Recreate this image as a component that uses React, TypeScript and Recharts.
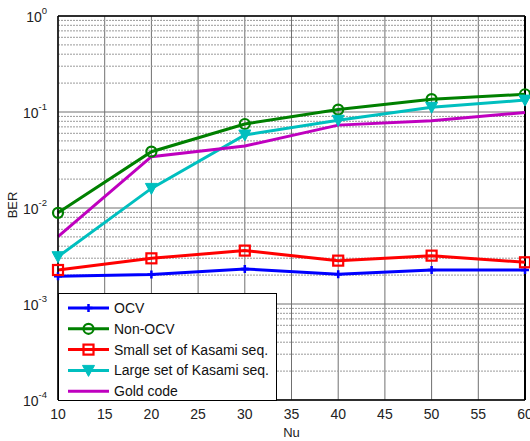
import {
  CartesianGrid,
  Legend,
  Line,
  LineChart,
  ReferenceLine,
  XAxis,
  YAxis,
} from "recharts"

const NU = [10, 20, 30, 40, 50, 60]
const OCV = [0.00195, 0.00203, 0.00232, 0.00204, 0.00226, 0.00226]
const NON_OCV = [0.0089, 0.0386, 0.075, 0.106, 0.136, 0.153]
const SMALL_KASAMI = [0.00226, 0.00299, 0.0036, 0.00283, 0.00319, 0.00272]
const LARGE_KASAMI = [0.00311, 0.016, 0.0576, 0.082, 0.112, 0.133]
const GOLD = [0.00502, 0.0342, 0.0442, 0.073, 0.081, 0.099]

const X_TICKS = [10, 15, 20, 25, 30, 35, 40, 45, 50, 55, 60]
const Y_TICKS = [1e-4, 1e-3, 1e-2, 1e-1, 1]
const Y_EXPONENTS = ["-4", "-3", "-2", "-1", "0"]

// minor grid lines 2..9 of every decade
const MINOR_Y = Y_TICKS.slice(0, -1).flatMap((d) =>
  [2, 3, 4, 5, 6, 7, 8, 9].map((m) => m * d)
)

const COLORS = {
  ocv: "#0000ff",
  nonOcv: "#008000",
  small: "#ff0000",
  large: "#00bfbf",
  gold: "#bf00bf",
}

const SERIES = [
  { key: "ocv", name: "OCV", color: COLORS.ocv, marker: "plus" },
  { key: "nonOcv", name: "Non-OCV", color: COLORS.nonOcv, marker: "circle" },
  { key: "small", name: "Small set of Kasami seq.", color: COLORS.small, marker: "square" },
  { key: "large", name: "Large set of Kasami seq.", color: COLORS.large, marker: "triangle" },
  { key: "gold", name: "Gold code", color: COLORS.gold, marker: "none" },
]

const data = NU.map((nu, i) => ({
  nu,
  ocv: OCV[i],
  nonOcv: NON_OCV[i],
  small: SMALL_KASAMI[i],
  large: LARGE_KASAMI[i],
  gold: GOLD[i],
}))

const FONT = "'Liberation Sans', Arial, sans-serif"

function Marker({ type, cx, cy, color }: { type: string; cx: number; cy: number; color: string }) {
  if (type === "plus") {
    return (
      <path
        d={`M${cx - 4},${cy}H${cx + 4}M${cx},${cy - 4}V${cy + 4}`}
        stroke={color}
        strokeWidth={2.5}
        fill="none"
      />
    )
  }
  if (type === "circle") {
    return <circle cx={cx} cy={cy} r={5} stroke={color} strokeWidth={2.2} fill="none" />
  }
  if (type === "square") {
    return (
      <rect x={cx - 5} y={cy - 5} width={10} height={10} stroke={color} strokeWidth={2.2} fill="none" />
    )
  }
  if (type === "triangle") {
    return (
      <path
        d={`M${cx - 6},${cy - 5}L${cx + 6},${cy - 5}L${cx},${cy + 6}Z`}
        fill={color}
        stroke={color}
        strokeWidth={1}
      />
    )
  }
  return null
}

function makeDot(type: string, color: string) {
  return (props: any) => {
    const { cx, cy, index } = props
    if (cx == null || cy == null) return <g key={index} />
    return (
      <g key={index}>
        <Marker type={type} cx={cx} cy={cy} color={color} />
      </g>
    )
  }
}

function YTick(props: any) {
  const { x, y, payload } = props
  const i = Y_TICKS.indexOf(payload.value)
  return (
    <text x={x - 3} y={y + 6} textAnchor="end" fontSize={14} fill="#222" fontFamily={FONT}>
      <tspan>10</tspan>
      <tspan dy={-8} fontSize={9.5}>
        {Y_EXPONENTS[i]}
      </tspan>
    </text>
  )
}

function LegendBox() {
  return (
    <div
      style={{
        width: 217,
        height: 106,
        border: "1px solid #000",
        background: "#fff",
        fontFamily: FONT,
        color: "#111",
      }}
    >
      <svg width={217} height={106}>
        {SERIES.map((s, i) => {
          const cy = 14 + i * 20.8
          return (
            <g key={s.key}>
              <line x1={9} x2={50} y1={cy} y2={cy} stroke={s.color} strokeWidth={3} />
              <Marker type={s.marker} cx={29.5} cy={cy} color={s.color} />
              <text x={55} y={cy + 5} fontSize={14} fill="#111" fontFamily={FONT}>
                {s.name}
              </text>
            </g>
          )
        })}
      </svg>
    </div>
  )
}

export default function App() {
  return (
    <div style={{ width: 530, height: 441, background: "#fff" }}>
      <style>{"body{margin:0}"}</style>
      <LineChart
        width={530}
        height={441}
        data={data}
        margin={{ top: 16, right: 5, left: 0, bottom: 0 }}
        style={{ fontFamily: FONT }}
      >
        {MINOR_Y.map((v) => (
          <ReferenceLine
            key={v}
            y={v}
            stroke="#9a9a9a"
            strokeDasharray="2 1"
            strokeWidth={1}
          />
        ))}
        <CartesianGrid stroke="#707070" strokeWidth={1} />
        <XAxis
          dataKey="nu"
          type="number"
          domain={[10, 60]}
          ticks={X_TICKS}
          interval={0}
          height={41}
          tickLine={false}
          axisLine={{ stroke: "#000", strokeWidth: 1.5 }}
          tick={{ fontSize: 14, fill: "#222", fontFamily: FONT }}
          tickMargin={3}
          label={{
            value: "Nu",
            position: "insideBottom",
            offset: 4,
            fontSize: 13,
            fill: "#222",
            fontFamily: FONT,
          }}
        />
        <YAxis
          scale="log"
          type="number"
          domain={[1e-4, 1]}
          allowDataOverflow
          ticks={Y_TICKS}
          interval={0}
          width={58}
          tickLine={false}
          axisLine={{ stroke: "#000", strokeWidth: 1.5 }}
          tick={<YTick />}
          label={{
            value: "BER",
            angle: -90,
            position: "insideLeft",
            offset: 12,
            dy: -3,
            fontSize: 13,
            fill: "#222",
            fontFamily: FONT,
            style: { textAnchor: "middle" },
          }}
        />
        <ReferenceLine y={1} stroke="#000" strokeWidth={1.5} />
        <ReferenceLine x={60} stroke="#000" strokeWidth={2} />
        {SERIES.map((s) => (
          <Line
            key={s.key}
            type="linear"
            dataKey={s.key}
            name={s.name}
            stroke={s.color}
            strokeWidth={3}
            dot={makeDot(s.marker, s.color)}
            activeDot={false}
            isAnimationActive={false}
          />
        ))}
        <Legend
          layout="vertical"
          align="center"
          verticalAlign="middle"
          content={() => <LegendBox />}
          wrapperStyle={{ left: 58, top: 293, width: 219, height: 108 }}
        />
      </LineChart>
    </div>
  )
}
